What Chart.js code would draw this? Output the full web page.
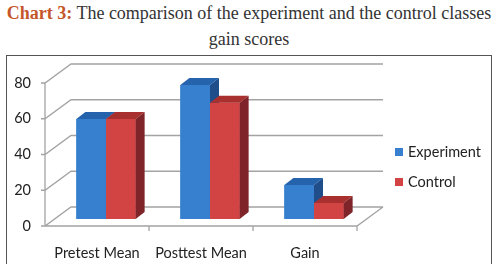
<!DOCTYPE html>
<html>
<head>
<meta charset="utf-8">
<script src="https://cdn.jsdelivr.net/npm/chart.js@4.4.1/dist/chart.umd.min.js"></script>
<style>
  body { margin: 0; background: #fff; width: 498px; height: 264px; overflow: hidden; }
  #title {
    position: absolute; left: 0; top: 0; width: 498px; text-align: center;
    font-family: 'Liberation Serif', 'Times New Roman', serif; font-size: 18px;
    line-height: 26px; color: #333;
  }
  #title b { color: #c5562b; }
  #box {
    position: absolute; left: 6px; top: 55px; width: 486px; height: 215px;
    border: 1px solid #555; box-sizing: border-box;
  }
</style>
</head>
<body>
<div id="title"><b>Chart 3:</b> The comparison of the experiment and the control classes<br>gain scores</div>
<div id="box"><canvas id="chart"></canvas></div>
<script>
// data
const categories = ['Pretest Mean', 'Posttest Mean', 'Gain'];
const seriesNames = ['Experiment', 'Control'];
const experiment = [56, 75, 19];
const control = [56, 65, 9];
const yTicks = [0, 20, 40, 60, 80];

// 3D look
const shades = [
  { front: '#3780cf', top: '#2563ad', side: '#1f4e8a' },
  { front: '#d24343', top: '#a8302f', side: '#7f2529' },
];
const GRID = '#a3a3a3';
const WALL = { dx: 26, dy: 19 };   // back wall offset
const BAR = { ox: 9, oy: 7, dx: 9, dy: 7 };  // bar position & depth
const FONT = { family: 'Lato', size: 14.5 };

const depth3d = {
  id: 'depth3d',
  beforeDatasetsDraw(chart) {
    const { ctx, chartArea: a, scales: { x, y } } = chart;
    const y0 = y.getPixelForValue(0);
    const step = (a.right - a.left) / categories.length;

    ctx.save();
    ctx.strokeStyle = GRID;
    ctx.lineWidth = 1.3;
    ctx.beginPath();
    yTicks.forEach(v => {
      const py = y.getPixelForValue(v);
      ctx.moveTo(a.left - 4, py);
      ctx.lineTo(a.left, py);
      ctx.lineTo(a.left + WALL.dx, py - WALL.dy);
      ctx.lineTo(a.right + WALL.dx, py - WALL.dy);
    });
    // left axis + floor
    ctx.moveTo(a.left, y.getPixelForValue(yTicks[yTicks.length - 1]));
    ctx.lineTo(a.left, y0);
    ctx.lineTo(a.right, y0);
    ctx.lineTo(a.right + WALL.dx, y0 - WALL.dy);
    categories.forEach((c, i) => {
      const px = x.getPixelForValue(i) + step / 2;
      ctx.moveTo(px, y0);
      ctx.lineTo(px, y0 + 5);
    });
    ctx.stroke();
    ctx.restore();

    ctx.save();
    ctx.translate(BAR.ox, -BAR.oy);
  },
  afterDatasetsDraw(chart) {
    const { ctx } = chart;
    const metas = chart.data.datasets.map((d, i) => chart.getDatasetMeta(i));
    categories.forEach((c, i) => {
      metas.forEach((meta, d) => {
        const { x, y, base, width } = meta.data[i].getProps(['x', 'y', 'base', 'width'], true);
        const l = x - width / 2, r = x + width / 2;
        const s = shades[d];
        ctx.fillStyle = s.front;
        ctx.fillRect(l, y, width, base - y);
        ctx.fillStyle = s.top;
        ctx.beginPath();
        ctx.moveTo(l, y);
        ctx.lineTo(l + BAR.dx, y - BAR.dy);
        ctx.lineTo(r + BAR.dx, y - BAR.dy);
        ctx.lineTo(r, y);
        ctx.closePath();
        ctx.fill();
        ctx.fillStyle = s.side;
        ctx.beginPath();
        ctx.moveTo(r, y);
        ctx.lineTo(r + BAR.dx, y - BAR.dy);
        ctx.lineTo(r + BAR.dx, base - BAR.dy);
        ctx.lineTo(r, base);
        ctx.closePath();
        ctx.fill();
      });
    });
    ctx.restore();
  },
  afterDraw(chart) {
    // legend on the right
    const { ctx } = chart;
    ctx.save();
    ctx.font = `${FONT.size}px ${FONT.family}`;
    ctx.textBaseline = 'middle';
    seriesNames.forEach((name, i) => {
      const cy = 96 + i * 30;
      ctx.fillStyle = shades[i].front;
      ctx.fillRect(388, cy - 4, 8, 8);
      ctx.fillStyle = '#222';
      ctx.fillText(name, 401, cy);
    });
    ctx.restore();
  },
};

new Chart(document.getElementById('chart'), {
  type: 'bar',
  data: {
    labels: categories,
    datasets: [
      { label: seriesNames[0], data: experiment, backgroundColor: shades[0].front },
      { label: seriesNames[1], data: control, backgroundColor: shades[1].front },
    ],
  },
  options: {
    responsive: true,
    maintainAspectRatio: false,
    animation: false,
    events: [],
    categoryPercentage: 0.57,
    barPercentage: 1,
    layout: { padding: { left: 0, right: 134, top: 27, bottom: 0 } },
    plugins: { legend: { display: false }, tooltip: { enabled: false } },
    scales: {
      x: {
        grid: { display: false, drawTicks: false },
        border: { display: false },
        ticks: { font: FONT, color: '#222', padding: 19 },
        afterFit: s => { s.height = 43; },
      },
      y: {
        min: 0,
        max: 80,
        grid: { display: false, drawTicks: false },
        border: { display: false },
        ticks: { stepSize: 20, font: FONT, color: '#222', padding: 14 },
        afterFit: s => { s.width = 38; },
      },
    },
  },
  plugins: [depth3d],
});
</script>
</body>
</html>
